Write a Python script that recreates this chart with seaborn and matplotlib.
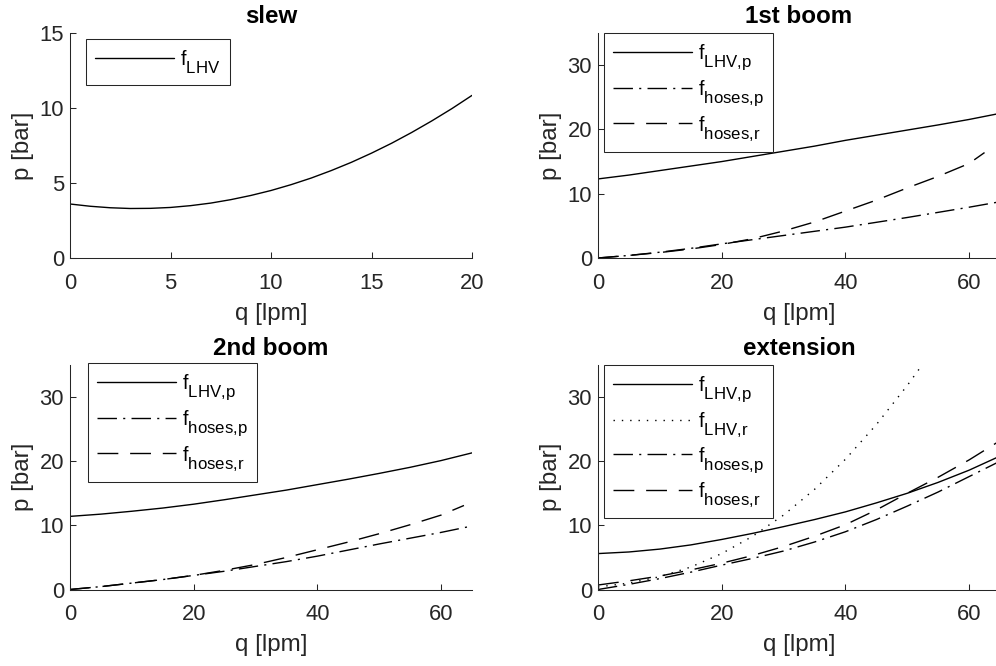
import matplotlib
matplotlib.use("Agg")
import matplotlib.pyplot as plt
import seaborn as sns

# larger, lower subscripts (MATLAB-like TeX rendering)
try:
    import matplotlib._mathtext as _mt
    _mt.SHRINK_FACTOR = 0.85
    _mt.FontConstantsBase.sub1 = 0.75
except Exception:
    pass

# ---------------- data ----------------
slew_q = list(range(0, 21))
slew_lhv = [3.60, 3.45, 3.35, 3.30, 3.31, 3.37, 3.49, 3.66, 3.89, 4.17, 4.50,
            4.89, 5.33, 5.83, 6.38, 6.99, 7.65, 8.37, 9.14, 9.96, 10.84]

q65 = [0, 5, 10, 15, 20, 25, 30, 35, 40, 45, 50, 55, 60, 65]

boom1_lhv_p = [12.3, 12.9, 13.6, 14.3, 15.0, 15.8, 16.6, 17.4, 18.3, 19.1, 19.9, 20.7, 21.55, 22.5]
boom1_hoses_p = [0.0, 0.4, 0.9, 1.5, 2.2, 2.85, 3.5, 4.15, 4.8, 5.55, 6.3, 7.1, 7.9, 8.75]
boom1_r_q = [0, 5, 10, 15, 20, 25, 30, 35, 40, 45, 50, 55, 60, 62.5]
boom1_hoses_r = [0.0, 0.4, 0.85, 1.4, 2.1, 3.0, 4.2, 5.6, 7.3, 9.0, 10.9, 12.7, 14.7, 16.4]

boom2_lhv_p = [11.4, 11.75, 12.2, 12.7, 13.3, 14.0, 14.75, 15.5, 16.35, 17.2, 18.1, 19.05, 20.1, 21.3]
boom2_hoses_p = [0.0, 0.45, 1.0, 1.55, 2.2, 2.85, 3.6, 4.35, 5.2, 6.15, 7.1, 8.0, 8.9, 9.9]
boom2_r_q = [0, 5, 10, 15, 20, 25, 30, 35, 40, 45, 50, 55, 60, 63.7]
boom2_hoses_r = [0.0, 0.45, 1.0, 1.55, 2.2, 3.0, 3.9, 5.0, 6.2, 7.4, 8.7, 10.1, 11.6, 13.1]

ext_lhv_p = [5.6, 5.85, 6.3, 6.95, 7.8, 8.75, 9.8, 10.9, 12.1, 13.5, 15.0, 16.7, 18.6, 20.8]
ext_r_q = [0, 5, 10, 15, 20, 25, 30, 35, 40, 45, 50, 53]
ext_lhv_r = [0.4, 1.0, 2.0, 3.5, 5.6, 8.3, 11.6, 15.6, 20.3, 25.7, 31.8, 35.8]
ext_hoses_p = [0.0, 0.8, 1.7, 2.7, 3.8, 4.85, 6.0, 7.4, 9.0, 10.9, 13.0, 15.2, 17.6, 20.0]
ext_hoses_r = [0.7, 1.35, 2.1, 3.05, 4.1, 5.3, 6.7, 8.3, 10.1, 12.4, 15.0, 17.5, 20.2, 23.2]

titles = ["slew", "1st boom", "2nd boom", "extension"]
xlabel = "q [lpm]"
ylabel = "p [bar]"

# ---------------- style ----------------
sns.set_style("ticks")
C = "#262626"
TICK_FS = 15.8
LABEL_FS = 17.4
LEG_FS = 14.2
plt.rcParams.update({
    "font.family": ["Liberation Sans", "DejaVu Sans"],
    "mathtext.fontset": "custom",
    "mathtext.rm": "Liberation Sans",
    "mathtext.it": "Liberation Sans:italic",
    "mathtext.bf": "Liberation Sans:bold",
    "text.color": C, "axes.labelcolor": C, "axes.edgecolor": C,
    "xtick.color": C, "ytick.color": C,
    "xtick.direction": "in", "ytick.direction": "in",
    "xtick.major.size": 4, "ytick.major.size": 4,
    "xtick.major.width": 0.75, "ytick.major.width": 0.75,
    "axes.linewidth": 0.75,
    "xtick.major.pad": 10.5, "ytick.major.pad": 4.3,
    "font.size": TICK_FS,
})

W, H = 996, 666
fig = plt.figure(figsize=(W / 100, H / 100), dpi=100)

def add_ax(left, right, top, bottom):
    return fig.add_axes([left / W, (H - bottom) / H, (right - left) / W, (bottom - top) / H])

ax1 = add_ax(70, 472, 33, 258)
ax2 = add_ax(598, 1000, 33, 258)
ax3 = add_ax(70, 472, 365, 589.5)
ax4 = add_ax(598, 1000, 365, 589.5)

LW = 1.0
SOLID = "-"
DASHED = (0, (15, 8.5))
DASHDOT = (0, (14, 4.5, 1.5, 4.5))
DOTTED = (0, (1, 5))

def draw(ax, x, y, ls, label):
    sns.lineplot(x=x, y=y, ax=ax, color="black", linewidth=LW, linestyle=ls,
                 label=label, legend=False, sort=False)

def lab(s):
    return r"$\mathregular{f_{" + s.replace(",", "{,}") + "}}$"

draw(ax1, slew_q, slew_lhv, SOLID, lab("LHV"))

draw(ax2, q65, boom1_lhv_p, SOLID, lab("LHV,p"))
draw(ax2, q65, boom1_hoses_p, DASHDOT, lab("hoses,p"))
draw(ax2, boom1_r_q, boom1_hoses_r, DASHED, lab("hoses,r"))

draw(ax3, q65, boom2_lhv_p, SOLID, lab("LHV,p"))
draw(ax3, q65, boom2_hoses_p, DASHDOT, lab("hoses,p"))
draw(ax3, boom2_r_q, boom2_hoses_r, DASHED, lab("hoses,r"))

draw(ax4, q65, ext_lhv_p, SOLID, lab("LHV,p"))
draw(ax4, ext_r_q, ext_lhv_r, DOTTED, lab("LHV,r"))
draw(ax4, q65, ext_hoses_p, DASHDOT, lab("hoses,p"))
draw(ax4, q65, ext_hoses_r, DASHED, lab("hoses,r"))

ax1.set_xlim(0, 20); ax1.set_ylim(0, 15)
ax1.set_xticks([0, 5, 10, 15, 20]); ax1.set_yticks([0, 5, 10, 15])
for ax in (ax2, ax3, ax4):
    ax.set_xlim(0, 65); ax.set_ylim(0, 35)
    ax.set_xticks([0, 20, 40, 60]); ax.set_yticks([0, 10, 20, 30])

legend_pos = {ax1: (86, 39), ax2: (604, 33), ax3: (88, 363), ax4: (604, 365)}

for ax, t in zip((ax1, ax2, ax3, ax4), titles):
    sns.despine(ax=ax)
    ax.set_title(t, fontsize=LABEL_FS, fontweight="bold", pad=7, color="black")
    ax.set_xlabel(xlabel, fontsize=LABEL_FS, labelpad=6.5)
    ax.set_ylabel(ylabel, fontsize=LABEL_FS, labelpad=4)
    ax.tick_params(labelsize=TICK_FS)
    lx, ly = legend_pos[ax]
    leg = ax.legend(loc="upper left", bbox_to_anchor=(lx / W, 1 - ly / H),
                    bbox_transform=fig.transFigure, borderaxespad=0,
                    fontsize=LEG_FS, handlelength=4.0, handletextpad=0.3,
                    labelspacing=0.3, borderpad=0.47, fancybox=False,
                    framealpha=1, edgecolor=C)
    leg.get_frame().set_linewidth(0.75)
    for txt in leg.get_texts():
        txt.set_color("black")

fig.savefig("out.png", dpi=100)
